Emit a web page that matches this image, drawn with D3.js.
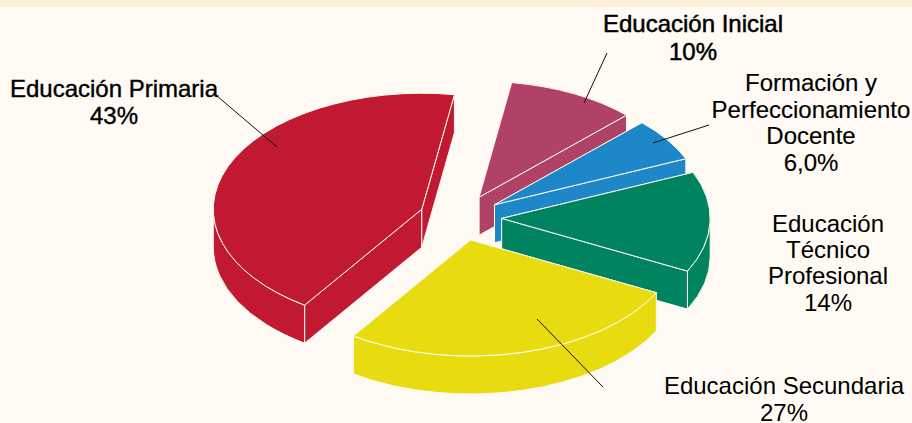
<!DOCTYPE html>
<html lang="es">
<head>
<meta charset="utf-8">
<title>Distribución por nivel educativo</title>
<script src="https://cdn.jsdelivr.net/npm/d3@7"></script>
<style>
  html, body { margin: 0; padding: 0; background: #fffaf3; }
  svg { display: block; }
  text { font-family: "Liberation Sans", Arial, sans-serif; font-size: 24px; fill: #000; stroke: #000; text-anchor: middle; }
</style>
</head>
<body>
<svg id="chart" width="912" height="423"></svg>
<script>
// Slices in clockwise order, starting just right of twelve o'clock
const categories = ["Educación Inicial", "Formación y Perfeccionamiento Docente", "Educación Técnico Profesional", "Educación Secundaria", "Educación Primaria"];
const shares = [10, 6, 14, 27, 43];
const shareLabels = ["10%", "6,0%", "14%", "27%", "43%"];
const sliceColors = ["#b04267", "#1e87c7", "#00835f", "#e8dc10", "#c11932"];

// Text blocks and leader lines, one entry per slice
const labelBlocks = [
  { x: 693, y: 32, step: 28, heavy: 0.5, lines: ["Educación Inicial"], leader: [607, 53, 584, 103] },
  { x: 811, y: 91, step: 26.6, heavy: 0.15, lines: ["Formación y", "Perfeccionamiento", "Docente"], leader: [709, 125, 653, 143] },
  { x: 828, y: 231.5, step: 26.4, heavy: 0.05, lines: ["Educación", "Técnico", "Profesional"], leader: null },
  { x: 784, y: 393.5, step: 27.5, heavy: 0, lines: ["Educación Secundaria"], leader: [603, 387, 537, 319] },
  { x: 114, y: 96.5, step: 27.5, heavy: 0.4, lines: ["Educación Primaria"], leader: [217, 96, 277, 147] }
];

const width = 912, height = 423;
const center = { x: 460.3, y: 217.7 };
const rx = 208.5, ry = 116, depth = 38, explode = 41.4;
const deg = Math.PI / 180;

const svg = d3.select("#chart");
svg.append("rect").attr("width", width).attr("height", 7).attr("fill", "#fdf0da");

const pie = d3.pie().sort(null).startAngle(9 * deg).endAngle(369 * deg);
const slices = pie(shares).map((d, i) => {
  const mid = (d.startAngle + d.endAngle) / 2;
  return {
    ...d,
    color: sliceColors[i],
    apex: { x: center.x + explode * Math.sin(mid), y: center.y - explode * (ry / rx) * Math.cos(mid) }
  };
});

// Point on a slice's rim, lowered by z for the underside
const rim = (s, a, z = 0) => [s.apex.x + rx * Math.sin(a), s.apex.y - ry * Math.cos(a) + z];
const ellipseTo = (p, a0, a1, sweep) =>
  `A${rx},${ry} 0 ${Math.abs(a1 - a0) > Math.PI ? 1 : 0} ${sweep} ${p[0]},${p[1]}`;

function topPath(s) {
  const a = rim(s, s.startAngle), b = rim(s, s.endAngle);
  return `M${s.apex.x},${s.apex.y}L${a[0]},${a[1]}${ellipseTo(b, s.startAngle, s.endAngle, 1)}Z`;
}
function sidePath(s, a) {
  const p = rim(s, a), q = rim(s, a, depth);
  return `M${s.apex.x},${s.apex.y}L${p[0]},${p[1]}L${q[0]},${q[1]}L${s.apex.x},${s.apex.y + depth}Z`;
}
// Outer wall exists only where the rim faces the viewer, from 90° to 270°
function wallPath(s) {
  const a0 = Math.max(s.startAngle, 90 * deg), a1 = Math.min(s.endAngle, 270 * deg);
  if (a1 <= a0) return null;
  const p0 = rim(s, a0), p1 = rim(s, a1), q0 = rim(s, a0, depth), q1 = rim(s, a1, depth);
  return `M${p0[0]},${p0[1]}${ellipseTo(p1, a0, a1, 1)}L${q1[0]},${q1[1]}${ellipseTo(q0, a1, a0, 0)}Z`;
}

// Back slices are painted first so nearer faces overlap them
const group = svg.append("g").selectAll("g").data(slices).join("g")
  .attr("fill", d => d.color)
  .attr("stroke", "#fff9f2")
  .attr("stroke-width", 1)
  .attr("stroke-linejoin", "round");
group.append("path").attr("d", d => sidePath(d, d.startAngle));
group.append("path").attr("d", d => sidePath(d, d.endAngle));
group.filter(d => wallPath(d)).append("path").attr("d", wallPath);
group.append("path").attr("d", topPath);

// Leader lines
svg.append("g").selectAll("line").data(labelBlocks.filter(b => b.leader)).join("line")
  .attr("x1", d => d.leader[0]).attr("y1", d => d.leader[1])
  .attr("x2", d => d.leader[2]).attr("y2", d => d.leader[3])
  .attr("stroke", "#111").attr("stroke-width", 1);

// Labels: name lines followed by the share
const label = svg.append("g").selectAll("text").data(labelBlocks).join("text")
  .attr("x", d => d.x).attr("y", d => d.y)
  .attr("stroke-width", d => d.heavy);
label.selectAll("tspan").data((d, i) => d.lines.concat(shareLabels[i]).map(t => ({ t, x: d.x, step: d.step })))
  .join("tspan")
  .attr("x", d => d.x)
  .attr("dy", (d, i) => i ? d.step : 0)
  .text(d => d.t);
</script>
</body>
</html>
